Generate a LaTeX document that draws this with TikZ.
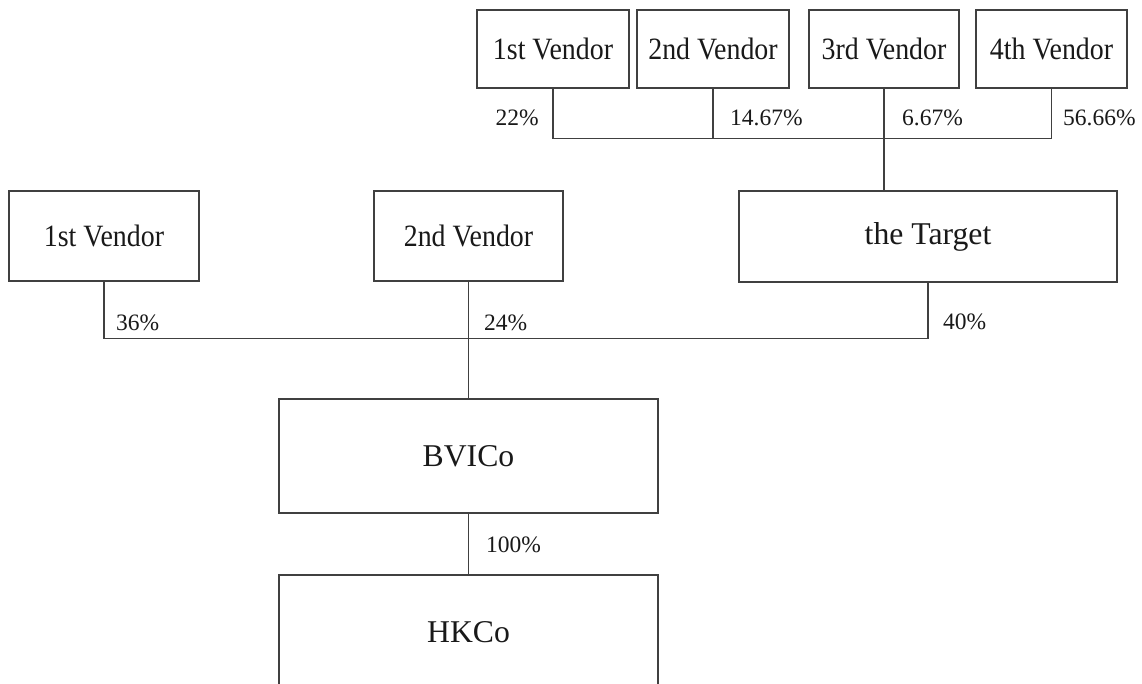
\documentclass[tikz,border=0pt]{standalone}
\usepackage{fontspec}
\setmainfont{Liberation Serif}
\newfontfamily\vendfont[FakeStretch=0.9]{Liberation Serif}
\begin{document}
\begin{tikzpicture}[x=1pt,y=-1pt,
  box/.style={draw=black!75, line width=1.3pt, inner sep=0pt, text=black!90},
  vfont/.style={font=\vendfont\fontsize{31}{36}\selectfont},
  vbox/.style={box, vfont, minimum height=78pt},
  mbox/.style={box, vfont, minimum height=90pt},
  bbox/.style={box, font=\fontsize{31.7}{36}\selectfont},
  pct/.style={inner sep=0pt, text=black!90, font=\fontsize{23.5}{28}\selectfont},
  link/.style={draw=black!75, line width=1.3pt}]
\clip (0,0) rectangle (1142,684);
\fill[white] (0,0) rectangle (1142,684);
% top vendors
\node[vbox, minimum width=152pt] (t1) at (553,49) {1st Vendor};
\node[vbox, minimum width=152pt] (t2) at (713,49) {2nd Vendor};
\node[vbox, minimum width=150pt] (t3) at (884,49) {3rd Vendor};
\node[vbox, minimum width=151pt] (t4) at (1051.5,49) {4th Vendor};
% middle row
\node[bbox, minimum width=378pt, minimum height=91pt] (target) at (928,236.5) {the Target};
\node[mbox, minimum width=190pt] (m1) at (104,236) {1st Vendor};
\node[mbox, minimum width=189pt] (m2) at (468.5,236) {2nd Vendor};
% lower
\node[bbox, minimum width=379pt, minimum height=114pt] (bvi) at (468.5,456) {BVICo};
\node[bbox, minimum width=379pt, minimum height=114pt] (hk) at (468.5,632) {HKCo};
% buses
\coordinate (busT) at (553,138.5);
\coordinate (busM) at (468.5,338.5);
\draw[link] (t1.south) |- (t4.south |- busT) -- (t4.south);
\draw[link] (t2.south) -- (t2.south |- busT);
\draw[link] (t3.south) -- (t3.south |- target.north);
\draw[link] (m1.south) |- (target.south |- busM) -- (target.south);
\draw[link] (m2.south) -- (bvi.north);
\draw[link] (bvi.south) -- (hk.north);
% labels
\node[pct, anchor=east] (p1) at (539,118) {22\%};
\node[pct, anchor=west] (p2) at (730,118) {14.67\%};
\node[pct, anchor=west] (p3) at (902,118) {6.67\%};
\node[pct, anchor=west] (p4) at (1063,118) {56.66\%};
\node[pct, anchor=west] (p5) at (116,323) {36\%};
\node[pct, anchor=west] (p6) at (484,323) {24\%};
\node[pct, anchor=west] (p7) at (943,322) {40\%};
\node[pct, anchor=west] (p8) at (486,545) {100\%};
\end{tikzpicture}
\end{document}
